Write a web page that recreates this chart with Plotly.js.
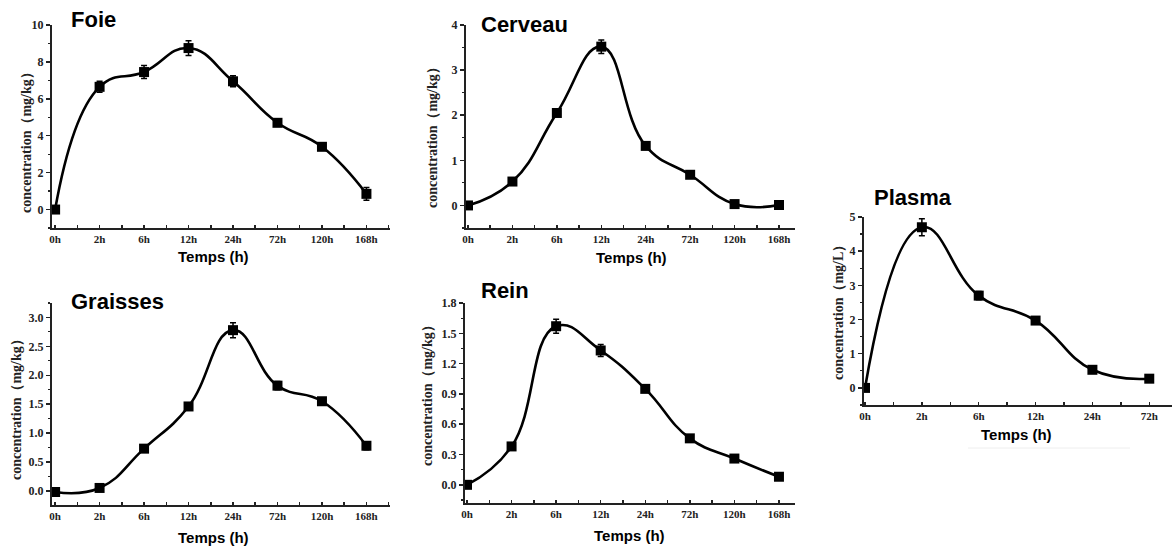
<!DOCTYPE html>
<html>
<head>
<meta charset="utf-8">
<script src="https://cdn.plot.ly/plotly-3.0.1.min.js"></script>
<style>
  html, body { margin: 0; padding: 0; background: #ffffff; }
  #chart { width: 1173px; height: 546px; }
</style>
</head>
<body>
<div id="chart"></div>
<script>
// ---------- DATA ----------
const timeLabelsLong = ['0h', '2h', '6h', '12h', '24h', '72h', '120h', '168h'];
const timeLabelsShort = ['0h', '2h', '6h', '12h', '24h', '72h'];

const foieValues = [0, 6.65, 7.45, 8.75, 6.95, 4.7, 3.4, 0.85];
const foieErrors = [0.05, 0.3, 0.35, 0.4, 0.3, 0.15, 0.12, 0.35];

const cerveauValues = [0, 0.53, 2.05, 3.52, 1.32, 0.68, 0.03, 0.01];
const cerveauErrors = [0.02, 0.03, 0.06, 0.15, 0.05, 0.05, 0.05, 0.07];

const graissesValues = [-0.02, 0.05, 0.73, 1.46, 2.78, 1.82, 1.55, 0.78];
const graissesErrors = [0.02, 0.02, 0.03, 0.05, 0.13, 0.07, 0.04, 0.07];

const reinValues = [0, 0.38, 1.57, 1.33, 0.95, 0.46, 0.26, 0.08];
const reinErrors = [0.01, 0.02, 0.07, 0.06, 0.03, 0.02, 0.01, 0.02];

const plasmaValues = [0, 4.7, 2.7, 1.97, 0.53, 0.27];
const plasmaErrors = [0.05, 0.25, 0.12, 0.05, 0.03, 0.03];

const panelTitles = ['Foie', 'Cerveau', 'Graisses', 'Rein', 'Plasma'];
const xTitle = 'Temps (h)';
const yTitleKg = 'concentration（mg/kg）';
const yTitleL = 'concentration（mg/L）';

// ---------- LAYOUT HELPERS ----------
const W = 1173, H = 546;
const px = v => v / W;
const py = v => 1 - v / H;

const serifTick = { family: '"Liberation Serif", "Times New Roman", serif', size: 11, color: '#222', weight: 'bold' };
const serifTickY = { family: '"Liberation Serif", "Times New Roman", serif', size: 12, color: '#222', weight: 'bold' };

function makeTrace(labels, values, errors, xa, ya) {
  return {
    type: 'scatter',
    mode: 'lines+markers',
    x: labels.map((_, i) => i),
    y: values,
    xaxis: xa,
    yaxis: ya,
    line: { color: '#000', width: 2.6, shape: 'spline', smoothing: 1.3 },
    marker: { symbol: 'square', size: 10, color: '#000' },
    error_y: { type: 'data', array: errors, visible: true, color: '#000', thickness: 1.5, width: 3 },
    showlegend: false,
    hoverinfo: 'x+y'
  };
}

function xAxis(labels, domainPx, rng, anchor) {
  return {
    domain: [px(domainPx[0]), px(domainPx[1])],
    range: rng,
    anchor: anchor,
    tickmode: 'array',
    tickvals: labels.map((_, i) => i),
    ticktext: labels,
    ticks: 'inside', ticklen: 3, tickwidth: 1.5, tickcolor: '#222',
    minor: { dtick: 0.5, tick0: 0, ticks: 'inside', ticklen: 3, tickwidth: 1.5, tickcolor: '#222' },
    showline: true, linecolor: '#222', linewidth: 2,
    showgrid: false, zeroline: false,
    tickfont: serifTick,
    fixedrange: true
  };
}

function yAxis(domainPx, rng, dtick, anchor, fmt) {
  return {
    domain: [py(domainPx[1]), py(domainPx[0])],
    range: rng,
    anchor: anchor,
    tickmode: 'linear', tick0: 0, dtick: dtick,
    tickformat: fmt,
    ticks: 'outside', ticklen: 4, tickwidth: 1.5, tickcolor: '#222',
    minor: { dtick: dtick / 2, tick0: 0, ticks: 'outside', ticklen: 2, tickwidth: 1.2, tickcolor: '#222' },
    showline: true, linecolor: '#222', linewidth: 2,
    showgrid: false, zeroline: false,
    tickfont: serifTickY,
    fixedrange: true
  };
}

const data = [
  makeTrace(timeLabelsLong, foieValues, foieErrors, 'x', 'y'),
  makeTrace(timeLabelsLong, cerveauValues, cerveauErrors, 'x2', 'y2'),
  makeTrace(timeLabelsLong, graissesValues, graissesErrors, 'x3', 'y3'),
  makeTrace(timeLabelsLong, reinValues, reinErrors, 'x4', 'y4'),
  makeTrace(timeLabelsShort, plasmaValues, plasmaErrors, 'x5', 'y5')
];

const titleFont = { family: '"Liberation Sans", Arial, sans-serif', size: 22, color: '#000', weight: 'bold' };
const xTitleFont = { family: '"Liberation Sans", Arial, sans-serif', size: 15, color: '#000', weight: 'bold' };
const yTitleFont = { family: '"Liberation Serif", "Times New Roman", serif', size: 14, color: '#222', weight: 'bold' };

function ann(text, x, y, font, opts) {
  return Object.assign({
    text: text, xref: 'paper', yref: 'paper', x: px(x), y: py(y),
    showarrow: false, font: font, xanchor: 'center', yanchor: 'middle'
  }, opts || {});
}

const annotations = [
  ann(panelTitles[0], 69, 20, titleFont, { xanchor: 'left' }),
  ann(panelTitles[1], 479, 25, titleFont, { xanchor: 'left' }),
  ann(panelTitles[2], 69, 301, titleFont, { xanchor: 'left' }),
  ann(panelTitles[3], 479, 290, titleFont, { xanchor: 'left' }),
  ann(panelTitles[4], 872, 197, titleFont, { xanchor: 'left' }),

  ann(xTitle, 213, 256, xTitleFont),
  ann(xTitle, 631, 257, xTitleFont),
  ann(xTitle, 213, 537, xTitleFont),
  ann(xTitle, 629, 535, xTitleFont),
  ann(xTitle, 1016, 435, xTitleFont),

  ann(yTitleKg, 26, 139, yTitleFont, { textangle: -90 }),
  ann(yTitleKg, 432, 134, yTitleFont, { textangle: -90 }),
  ann(yTitleKg, 16, 406, yTitleFont, { textangle: -90 }),
  ann(yTitleKg, 427, 392, yTitleFont, { textangle: -90 }),
  ann(yTitleL, 838, 309, yTitleFont, { textangle: -90 })
];

const layout = {
  width: W, height: H,
  margin: { l: 0, r: 0, t: 0, b: 0 },
  paper_bgcolor: '#ffffff', plot_bgcolor: 'rgba(0,0,0,0)',
  xaxis:  xAxis(timeLabelsLong, [52, 390], [-0.07, 7.53], 'y'),
  yaxis:  yAxis([25, 228], [-1, 10], 2, 'x', 'd'),
  xaxis2: xAxis(timeLabelsLong, [466, 795], [-0.045, 7.36], 'y2'),
  yaxis2: yAxis([25, 228], [-0.5, 4], 1, 'x2', 'd'),
  xaxis3: xAxis(timeLabelsLong, [52, 390], [-0.07, 7.53], 'y3'),
  yaxis3: yAxis([303, 505], [-0.245, 3.25], 0.5, 'x3', '.1f'),
  xaxis4: xAxis(timeLabelsLong, [465, 795], [-0.045, 7.36], 'y4'),
  yaxis4: yAxis([303, 503], [-0.18, 1.8], 0.3, 'x4', '.1f'),
  xaxis5: xAxis(timeLabelsShort, [864, 1172], [-0.018, 5.4], 'y5'),
  yaxis5: yAxis([217, 405], [-0.5, 5], 1, 'x5', 'd'),
  annotations: annotations,
  shapes: [
    { type: 'line', xref: 'paper', yref: 'paper', x0: px(968), x1: px(1130), y0: py(448), y1: py(448),
      line: { color: '#eeeeee', width: 1 } }
  ]
};

Plotly.newPlot('chart', data, layout, { displayModeBar: false, staticPlot: true });
</script>
</body>
</html>
